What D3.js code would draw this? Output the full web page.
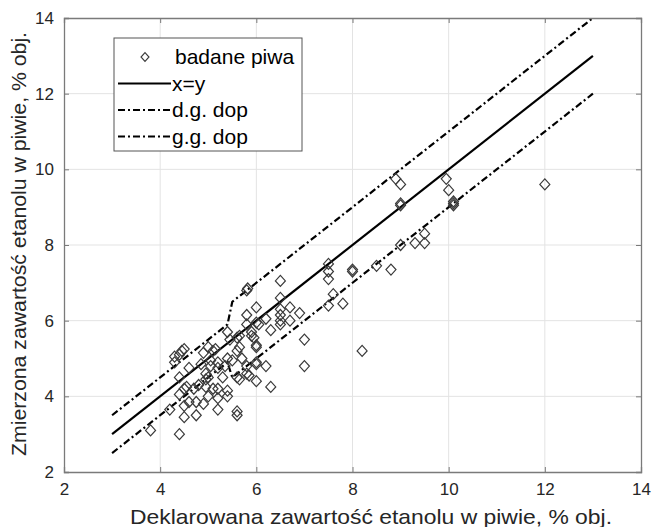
<!DOCTYPE html>
<html>
<head>
<meta charset="utf-8">
<script src="https://cdn.jsdelivr.net/npm/d3@7"></script>
<style>
  body { margin: 0; background: #fff; }
  svg { font-family: "Liberation Sans", Arial, sans-serif; }
</style>
</head>
<body>
<svg id="chart" width="652" height="527"></svg>
<script>
"use strict";

// measured beers: declared (x) vs measured (y) ethanol, % vol.
const declared = [
  3.8, 4.4, 4.2, 4.5, 4.5, 4.4, 4.5, 4.55, 4.7, 4.8,
  4.75, 4.6, 4.75, 4.9, 5.0, 5.2, 5.2, 5.2, 5.1, 4.95,
  5.4, 5.4, 5.6, 5.6, 5.3, 5.0, 4.95, 4.95, 5.05, 5.2,
  5.2, 5.35, 4.85, 4.6, 4.4, 4.3, 4.3, 4.4, 4.45, 4.5,
  4.9, 5.05, 5.1, 5.15, 5.0, 5.4, 5.5, 5.6, 5.65, 5.7,
  5.6, 5.65, 5.8, 5.8, 5.85, 6.0, 6.0, 6.0, 6.2, 6.3,
  6.0, 6.0, 5.95, 5.6, 5.45, 5.4, 5.65, 5.9, 5.9, 5.8,
  6.0, 6.05, 6.3, 6.2, 6.5, 6.5, 6.5, 6.5, 6.7, 6.7,
  6.9, 7.0, 7.0, 5.8, 6.0, 5.8, 5.82, 6.5, 6.5, 7.5,
  7.5, 7.5, 7.5, 7.6, 7.8, 8.0, 8.0, 8.2, 8.5, 8.8,
  9.0, 9.3, 9.5, 9.5, 8.9, 9.0, 9.0, 9.0, 9.95, 10.0,
  10.1, 10.1, 10.1, 12.0
];
const measured = [
  3.1, 3.0, 3.65, 3.45, 3.75, 4.05, 4.2, 4.25, 4.2, 4.3,
  3.5, 3.85, 3.85, 3.8, 4.0, 3.65, 3.95, 4.2, 4.2, 4.25,
  4.0, 4.15, 3.6, 3.5, 4.5, 4.5, 4.6, 4.45, 4.8, 4.75,
  4.9, 4.8, 4.85, 4.75, 4.5, 4.9, 5.05, 5.1, 5.2, 5.25,
  5.15, 4.95, 5.2, 5.25, 5.3, 5.0, 4.95, 5.2, 5.3, 5.0,
  4.5, 4.45, 4.6, 4.8, 4.55, 4.4, 4.85, 4.9, 4.8, 4.25,
  5.35, 5.3, 5.55, 5.55, 5.5, 5.7, 5.6, 5.6, 5.7, 5.9,
  5.95, 5.9, 5.75, 6.05, 5.9, 6.0, 6.15, 6.3, 6.0, 6.35,
  6.2, 5.5, 4.8, 6.15, 6.35, 6.8, 6.85, 6.6, 7.05, 7.5,
  7.3, 7.1, 6.4, 6.7, 6.45, 7.3, 7.35, 5.2, 7.45, 7.35,
  8.0, 8.05, 8.3, 8.05, 9.75, 9.6, 9.05, 9.1, 9.75, 9.45,
  9.1, 9.05, 9.15, 9.6
];

// reference line and tolerance bounds
const refX = [3, 13];
const refY = [3, 13];
const boundX = [3, 5.4, 5.5, 13];
const lowerY = [2.5, 4.9, 4.5, 12];
const upperY = [3.5, 5.9, 6.5, 14];

const xTicks = [2, 4, 6, 8, 10, 12, 14];
const yTicks = [2, 4, 6, 8, 10, 12, 14];

const legendLabels = ["badane piwa", "x=y", "d.g. dop", "g.g. dop"];

const margin = {top: 18, right: 11, bottom: 55, left: 64},
    width = 652 - margin.left - margin.right,
    height = 527 - margin.top - margin.bottom;

const dashDot = "7,3,2,3";
const axisColor = "#262626";

const svg = d3.select("#chart");
const g = svg.append("g")
  .attr("transform", `translate(${margin.left},${margin.top})`);

const x = d3.scaleLinear().domain([2, 14]).range([0, width]);
const y = d3.scaleLinear().domain([2, 14]).range([height, 0]);

// grid
g.append("g").selectAll("line")
  .data(xTicks.slice(1, -1))
  .join("line")
    .attr("x1", d => x(d)).attr("x2", d => x(d))
    .attr("y1", 0).attr("y2", height)
    .attr("stroke", "#e3e3e3");
g.append("g").selectAll("line")
  .data(yTicks.slice(1, -1))
  .join("line")
    .attr("y1", d => y(d)).attr("y2", d => y(d))
    .attr("x1", 0).attr("x2", width)
    .attr("stroke", "#e3e3e3");

// lines
const line = d3.line().x(d => x(d[0])).y(d => y(d[1]));

g.append("path")
  .datum(d3.zip(refX, refY))
  .attr("d", line)
  .attr("fill", "none").attr("stroke", "#000").attr("stroke-width", 2.2);
g.append("path")
  .datum(d3.zip(boundX, lowerY))
  .attr("d", line)
  .attr("fill", "none").attr("stroke", "#000").attr("stroke-width", 2.2)
  .attr("stroke-dasharray", dashDot);
g.append("path")
  .datum(d3.zip(boundX, upperY))
  .attr("d", line)
  .attr("fill", "none").attr("stroke", "#000").attr("stroke-width", 2.2)
  .attr("stroke-dasharray", dashDot);

// points
const diamond = "M0,-5.5L5,0L0,5.5L-5,0Z";
g.append("g").selectAll("path")
  .data(d3.zip(declared, measured))
  .join("path")
    .attr("d", diamond)
    .attr("transform", d => `translate(${x(d[0])},${y(d[1])})`)
    .attr("fill", "none")
    .attr("stroke", "#3a3a3a")
    .attr("stroke-width", 1.2);

// axes (box with ticks on every side)
const tickLen = 5;
const axB = g.append("g").attr("transform", `translate(0,${height})`)
  .call(d3.axisBottom(x).tickValues(xTicks).tickSize(-tickLen).tickPadding(11));
const axT = g.append("g")
  .call(d3.axisTop(x).tickValues(xTicks).tickSize(-tickLen).tickFormat(""));
const axL = g.append("g")
  .call(d3.axisLeft(y).tickValues(yTicks).tickSize(-tickLen).tickPadding(10));
const axR = g.append("g").attr("transform", `translate(${width},0)`)
  .call(d3.axisRight(y).tickValues(yTicks).tickSize(-tickLen).tickFormat(""));

[axB, axT, axL, axR].forEach(a => {
  a.select(".domain").attr("stroke", "#7a7a7a").attr("stroke-width", 1.3);
  a.selectAll(".tick line").attr("stroke", "#7a7a7a");
  a.selectAll("text")
    .attr("fill", axisColor)
    .style("font-size", "17px")
    .style("font-family", "'Liberation Sans', Arial, sans-serif");
});

// axis labels
svg.append("text")
  .attr("x", 371)
  .attr("y", 524)
  .attr("text-anchor", "middle")
  .attr("fill", axisColor)
  .attr("textLength", 482)
  .attr("lengthAdjust", "spacingAndGlyphs")
  .style("font-size", "21px")
  .text("Deklarowana zawartość etanolu w piwie, % obj.");

svg.append("text")
  .attr("transform", "translate(26,244) rotate(-90)")
  .attr("text-anchor", "middle")
  .attr("fill", axisColor)
  .attr("textLength", 424)
  .attr("lengthAdjust", "spacingAndGlyphs")
  .style("font-size", "21px")
  .text("Zmierzona zawartość etanolu w piwie, % obj.");

// legend
const legend = svg.append("g").attr("transform", "translate(114,38)");
legend.append("rect")
  .attr("width", 188).attr("height", 113)
  .attr("fill", "#fff")
  .attr("stroke", "#555").attr("stroke-width", 1);

const rows = legend.selectAll("g.row")
  .data(legendLabels)
  .join("g")
    .attr("class", "row")
    .attr("transform", (d, i) => `translate(0,${19 + i * 26.5})`);

rows.filter((d, i) => i === 0)
  .append("path")
    .attr("d", diamond)
    .attr("transform", "translate(31,0) scale(0.8)")
    .attr("fill", "none").attr("stroke", "#3a3a3a").attr("stroke-width", 1.4);

rows.filter((d, i) => i > 0)
  .append("line")
    .attr("x1", 4).attr("x2", 57)
    .attr("stroke", "#000").attr("stroke-width", 2.2)
    .attr("stroke-dasharray", (d, i) => i === 0 ? null : dashDot);

rows.append("text")
  .attr("x", (d, i) => i === 0 ? 61 : 58)
  .attr("dy", "0.35em")
  .attr("fill", "#000")
  .style("font-size", "21px")
  .text(d => d);
</script>
</body>
</html>
